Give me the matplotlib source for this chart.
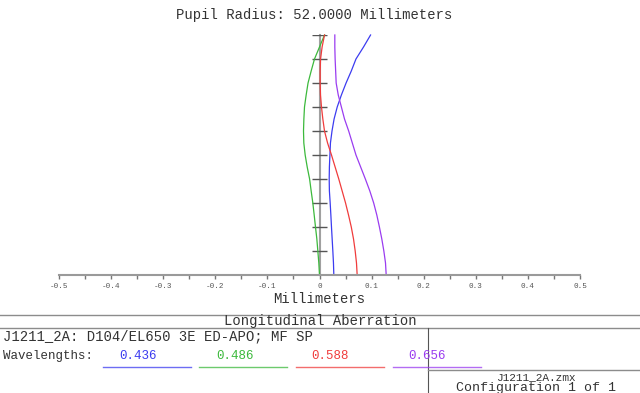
import numpy as np
import matplotlib
matplotlib.use("Agg")
import matplotlib.pyplot as plt

plt.rcParams['font.family'] = ['Liberation Mono', 'DejaVu Sans Mono']

# relative pupil height, 0 = axis, 1 = full aperture
pupil = [0.0, 0.05, 0.1, 0.15, 0.2, 0.25, 0.3, 0.35, 0.4, 0.45, 0.5,
         0.55, 0.6, 0.65, 0.7, 0.75, 0.8, 0.85, 0.9, 0.95, 1.0]
# longitudinal focus shift in mm for each wavelength
blue_436 = [0.0275, 0.0268, 0.0256, 0.0243, 0.023, 0.0218, 0.0205, 0.019, 0.0186, 0.019, 0.020,
            0.021, 0.024, 0.028, 0.034, 0.042, 0.051, 0.061, 0.070, 0.0845, 0.098]
green_486 = [0.0, -0.0013, -0.0032, -0.0051, -0.0077, -0.0102, -0.0128, -0.016, -0.019, -0.0236, -0.0275,
             -0.0301, -0.0307, -0.030, -0.0288, -0.0256, -0.022, -0.016, -0.0096, 0.0, 0.0096]
red_588 = [0.0723, 0.071, 0.0685, 0.0653, 0.061, 0.0557, 0.050, 0.0435, 0.037, 0.030, 0.023,
           0.0155, 0.0096, 0.0064, 0.0038, 0.0019, 0.0013, 0.0013, 0.002, 0.005, 0.0096]
purple_656 = [0.128, 0.1267, 0.1235, 0.1196, 0.115, 0.110, 0.104, 0.0966, 0.088, 0.079, 0.070,
              0.063, 0.056, 0.048, 0.042, 0.036, 0.032, 0.031, 0.030, 0.0294, 0.0294]

wl_labels = ['0.436', '0.486', '0.588', '0.656']
wl_colors = ['#3c3cf0', '#3cb93c', '#f03c3c', '#9a3cf0']
series = [blue_436, green_486, red_588, purple_656]

xticks = [-0.5, -0.4, -0.3, -0.2, -0.1, 0, 0.1, 0.2, 0.3, 0.4, 0.5]
xtick_labels = ['-0.5', '-0.4', '-0.3', '-0.2', '-0.1', '0', '0.1', '0.2', '0.3', '0.4', '0.5']

W, H = 640, 393
fig = plt.figure(figsize=(W / 100, H / 100), dpi=100)

# plot area: x -0.5..0.5 -> px 59..580, pupil 0..1 -> px 275..35
ax = fig.add_axes([59 / W, 1 - 275 / H, 521 / W, 240 / H])
ax.set_xlim(-0.5, 0.5)
ax.set_ylim(0, 1)
ax.patch.set_visible(False)
for s in ['left', 'top', 'right']:
    ax.spines[s].set_visible(False)
ax.spines['bottom'].set_color('#9a9a9a')
ax.spines['bottom'].set_linewidth(1.5)
ax.set_yticks([])
ax.set_xticks(xticks)
ax.set_xticklabels(xtick_labels, fontsize=5.5, color='#555555')
ax.set_xticks(np.arange(-0.45, 0.5, 0.1), minor=True)
ax.tick_params(axis='x', which='both', direction='out', length=3, width=1,
               color='#777777', pad=3)

# vertical axis with pupil ticks
ax.plot([0, 0], [0, 1], color='#a0a0a0', lw=1.5, zorder=1, clip_on=False)
ax.hlines(np.arange(0.1, 1.01, 0.1), -0.0135, 0.0135, color='#555555', lw=1, zorder=1)

for vals, c in zip(series, wl_colors):
    ax.plot(vals, pupil, color=c, lw=0.9, zorder=2, clip_on=False)

# overlay in pixel coordinates for the text block
ov = fig.add_axes([0, 0, 1, 1])
ov.set_xlim(0, W)
ov.set_ylim(H, 0)
ov.axis('off')

txt = '#333333'
ov.text(314, 15, 'Pupil Radius: 52.0000 Millimeters', ha='center', va='center', fontsize=10, color=txt)
ov.text(319, 299, 'Millimeters', ha='center', va='center', fontsize=10, color=txt)

grey = '#8c8c8c'
ov.plot([0, W], [315, 315], color=grey, lw=1)
ov.plot([0, W], [327.5, 327.5], color=grey, lw=1)
ov.plot([428, 428], [327.5, H], color='#555555', lw=0.8)
ov.plot([428, W], [370, 370], color=grey, lw=1)

ov.text(320, 321.5, 'Longitudinal Aberration', ha='center', va='center', fontsize=10, color=txt)
ov.text(3, 336, 'J1211_2A: D104/EL650 3E ED-APO; MF SP', ha='left', va='center', fontsize=10, color=txt)
ov.text(3, 356, 'Wavelengths:', ha='left', va='center', fontsize=9, color=txt)

label_x = [138, 235, 330, 427]
line_x = [(103, 191), (199, 287), (296, 384), (393, 481)]
for lab, c, lx, (x0, x1) in zip(wl_labels, wl_colors, label_x, line_x):
    ov.text(lx, 356, lab, ha='center', va='center', fontsize=9, color=c)
    ov.plot([x0, x1], [366.5, 366.5], color=c, lw=1, alpha=0.75)

ov.text(537, 377, 'J1211_2A.zmx', ha='center', va='center', fontsize=8, color=txt)
ov.text(536, 388.5, 'Configuration 1 of 1', ha='center', va='center', fontsize=9.5, color=txt)

fig.savefig('out.png', dpi=100)
